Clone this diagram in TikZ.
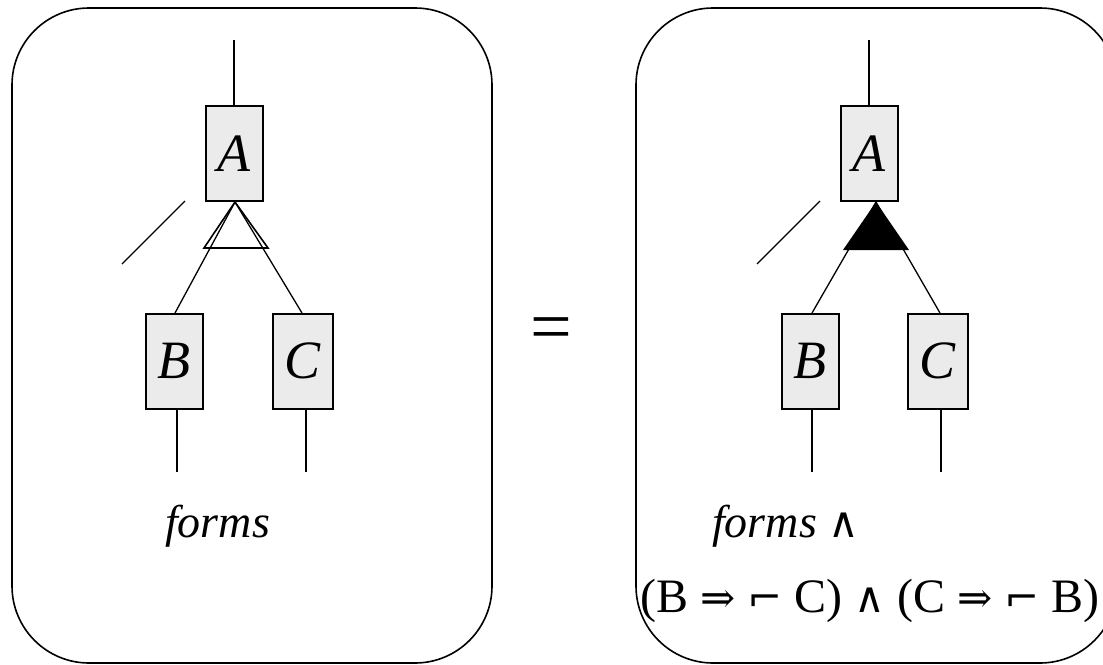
\documentclass[tikz,border=0pt]{standalone}
\usepackage{fontspec}
\setmainfont{Liberation Serif}
\newfontfamily\symf{DejaVu Serif}
\newcommand{\sy}[1]{{\upshape\symf\fontsize{42}{48}\selectfont #1}}
\begin{document}
\begin{tikzpicture}[x=1pt,y=-1pt,
  panel/.style={draw,line width=1.6pt,rounded corners=77pt},
  gbox/.style={draw,line width=1.6pt,fill=black!8,minimum width=57pt,minimum height=95pt,inner sep=0pt,anchor=north west,font=\fontsize{54}{60}\selectfont\itshape},
  wire/.style={line width=1.3pt},
  lbl/.style={inner sep=0pt,anchor=base west}]
\useasboundingbox (0,0) rectangle (1103,664);
% panels
\draw[panel] (12,8) rectangle (492,663);
\draw[panel] (636,8) rectangle (1117,663);
% ---- left
\node[gbox] (A1) at (205,105) {A};
\node[gbox] (B1) at (145,313) {B};
\node[gbox,minimum width=60pt] (C1) at (272,313) {C};
\coordinate (t1) at (234,40);
\coordinate (ap1) at (235,202);
\coordinate (bl1) at (204,248);
\coordinate (br1) at (268,248);
\coordinate (bt1) at (175,313);
\coordinate (ct1) at (302,313);
\coordinate (bb1) at (177,472);
\coordinate (cb1) at (306,472);
\coordinate (d1a) at (185,201);
\coordinate (d1b) at (122,264);
\draw[wire] (t1) -- (t1 |- A1.north);
\draw[wire] (ap1) -- (bt1);
\draw[wire] (ap1) -- (ct1);
\draw[line width=1.6pt,line join=miter] (ap1) -- (bl1) -- (br1) -- cycle;
\draw[wire] (bb1 |- B1.south) -- (bb1);
\draw[wire] (cb1 |- C1.south) -- (cb1);
\draw[wire] (d1a) -- (d1b);
\node[lbl] (f1) at (165,537) {\fontsize{46}{52}\selectfont\itshape forms};
% equals
\node[inner sep=0pt] (eq) at (551,335) {\fontsize{74}{80}\selectfont =};
% ---- right
\node[gbox] (A2) at (840,105) {A};
\node[gbox] (B2) at (781,313) {B};
\node[gbox,minimum width=60pt] (C2) at (907,313) {C};
\coordinate (t2) at (869,40);
\coordinate (ap2) at (876,202);
\coordinate (bl2) at (843,250);
\coordinate (br2) at (909,250);
\coordinate (bt2) at (812,313);
\coordinate (ct2) at (940,313);
\coordinate (bb2) at (812,472);
\coordinate (cb2) at (941,472);
\coordinate (d2a) at (820,201);
\coordinate (d2b) at (757,264);
\draw[wire] (t2) -- (t2 |- A2.north);
\draw[wire] (ap2) -- (bt2);
\draw[wire] (ap2) -- (ct2);
\fill (ap2) -- (bl2) -- (br2) -- cycle;
\draw[wire] (bb2 |- B2.south) -- (bb2);
\draw[wire] (cb2 |- C2.south) -- (cb2);
\draw[wire] (d2a) -- (d2b);
\node[lbl] (f2) at (712,537) {\fontsize{46}{52}\selectfont\itshape forms \sy{∧}};
\node[lbl] (f3) at (640,612) {\fontsize{48}{52}\selectfont (B \sy{⇒} \sy{⌐} C) \sy{∧} (C \sy{⇒} \sy{⌐} B)};
\end{tikzpicture}
\end{document}
